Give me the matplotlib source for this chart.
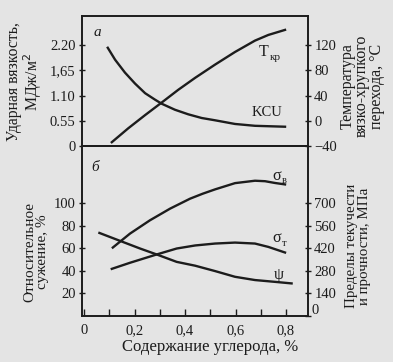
import matplotlib
matplotlib.use('Agg')
import matplotlib.pyplot as plt
from matplotlib.ticker import FixedLocator, FixedFormatter

plt.rcParams['font.family'] = ['Liberation Serif', 'DejaVu Serif']

# --- data ---
# top panel (a): impact toughness KCU (MJ/m2) and transition temperature T_kr (C)
kcu_x = [0.094, 0.123, 0.162, 0.202, 0.242, 0.281, 0.308, 0.36, 0.413, 0.466,
         0.519, 0.598, 0.677, 0.796]
kcu_y = [2.14, 1.88, 1.60, 1.36, 1.15, 1.01, 0.92, 0.79, 0.69, 0.61,
         0.56, 0.48, 0.44, 0.42]
tkr_x = [0.11, 0.175, 0.242, 0.308, 0.373, 0.44, 0.519, 0.598, 0.677, 0.73, 0.796]
tkr_y = [-34, -12, 9, 29, 49, 68, 89, 109, 127, 136, 144]

# bottom panel (b): reduction of area psi (%) and strength limits (MPa)
psi_x = [0.061, 0.143, 0.222, 0.288, 0.367, 0.44, 0.519, 0.598, 0.677, 0.756, 0.822]
psi_y = [73.6, 66.5, 59.7, 54.4, 47.8, 44.4, 39.6, 34.5, 31.6, 30.0, 28.6]
sb_x = [0.114, 0.182, 0.261, 0.341, 0.42, 0.47, 0.519, 0.598, 0.677, 0.717, 0.756, 0.796]
sb_y = [424, 511, 594, 667, 729, 760, 787, 826, 841, 838, 827, 818]
st_x = [0.11, 0.182, 0.288, 0.367, 0.44, 0.519, 0.598, 0.677, 0.73, 0.796]
st_y = [291, 329, 381, 418, 437, 449, 455, 449, 428, 393]

kcu_ticks = [0, 0.55, 1.10, 1.65, 2.20]
kcu_labels = ['0', '0.55', '1.10', '1,65', '2.20']
t_ticks = [-40, 0, 40, 80, 120]
psi_ticks = [20, 40, 60, 80, 100]
mpa_ticks = [0, 140, 280, 420, 560, 700]
mpa_labels = ['', '140', '280', '420', '560', '700']
x_ticks = [0, 0.1, 0.2, 0.3, 0.4, 0.5, 0.6, 0.7, 0.8]
x_labels = ['0', '', '0,2', '', '0,4', '', '0,6', '', '0,8']

W, H = 393, 362
BG = '#e4e4e4'
INK = '#1c1c1c'


def fx(px):
    return px / W


def fy(py):
    return 1 - py / H


fig = plt.figure(figsize=(W / 100, H / 100), dpi=100, facecolor=BG)

left, right = 82, 308
top_a, mid, bot_b = 15.5, 146, 315.5
ax_a = fig.add_axes([fx(left), fy(mid), (right - left) / W, (mid - top_a) / H])
ax_b = fig.add_axes([fx(left), fy(bot_b), (right - left) / W, (bot_b - mid) / H])
ax_a2 = ax_a.twinx()
ax_b2 = ax_b.twinx()

for ax in (ax_a, ax_b, ax_a2, ax_b2):
    ax.set_facecolor('none')
    for s in ax.spines.values():
        s.set_linewidth(1.2)
        s.set_color(INK)
    ax.set_xlim(-0.008, 0.887)
    ax.tick_params(colors=INK, labelsize=10.5, width=1.0, length=5,
                   direction='inout', pad=2)
ax_a.set_facecolor(BG)
ax_b.set_facecolor(BG)

lw = 1.7
ax_a.plot(kcu_x, kcu_y, color=INK, lw=lw)
ax_a2.plot(tkr_x, tkr_y, color=INK, lw=lw)
ax_b.plot(psi_x, psi_y, color=INK, lw=lw)
ax_b2.plot(sb_x, sb_y, color=INK, lw=lw)
ax_b2.plot(st_x, st_y, color=INK, lw=lw)

# axes limits and ticks
ax_a.set_ylim(0, 2.843)
ax_a.yaxis.set_major_locator(FixedLocator(kcu_ticks))
ax_a.yaxis.set_major_formatter(FixedFormatter(kcu_labels))
ax_a2.set_ylim(-40, 166.8)
ax_a2.set_yticks(t_ticks)
ax_a.set_xticks([])
ax_a2.set_xticks([])

ax_b.set_ylim(0, 151.1)
ax_b.set_yticks(psi_ticks)
ax_b2.set_ylim(0, 151.1 * 7)
ax_b2.yaxis.set_major_locator(FixedLocator(mpa_ticks))
ax_b2.yaxis.set_major_formatter(FixedFormatter(mpa_labels))
ax_b.xaxis.set_major_locator(FixedLocator(x_ticks))
ax_b.xaxis.set_major_formatter(FixedFormatter(x_labels))
ax_b.tick_params(axis='x', direction='in', length=5, pad=6)
# the "0" of the MPa scale sits a little above the corner in the original
fig.text(fx(312), fy(310), '0', fontsize=10.5, color=INK, ha='left', va='center')

# panel letters and curve labels
txt = dict(color=INK, ha='center', va='center')
fig.text(fx(97), fy(33), 'а', fontsize=11, style='italic', **txt)
fig.text(fx(95), fy(168), 'б', fontsize=11, style='italic', **txt)
fig.text(fx(264), fy(52), 'T', fontsize=11.5, **txt)
fig.text(fx(275), fy(57), 'кр', fontsize=8, **txt)
fig.text(fx(267), fy(113), 'KCU', fontsize=10.5, **txt)
fig.text(fx(277), fy(176), 'σ', fontsize=11.5, **txt)
fig.text(fx(284.5), fy(180), 'в', fontsize=7.5, **txt)
fig.text(fx(277), fy(238), 'σ', fontsize=11.5, **txt)
fig.text(fx(284.5), fy(243), 'т', fontsize=7.5, **txt)
fig.text(fx(279), fy(275), 'ψ', fontsize=11.5, **txt)

# axis titles
lab = dict(color=INK, ha='center', va='center', rotation=90,
           multialignment='center')
fig.text(fx(25), fy(82), 'Ударная вязкость,\nМДж/м$^2$', fontsize=11.3,
         linespacing=1.0, **lab)
fig.text(fx(362), fy(86), 'Температура\nвязко-хрупкого\nперехода, °С',
         fontsize=11.5, linespacing=0.88, **lab)
fig.text(fx(36), fy(252), 'Относительное\nсужение, %', fontsize=11,
         linespacing=1.0, **lab)
fig.text(fx(358), fy(246), 'Пределы текучести\nи прочности, МПа',
         fontsize=10.8, linespacing=0.95, **lab)
fig.text(fx(210), fy(347), 'Содержание углерода, %', fontsize=12,
         color=INK, ha='center', va='center')

fig.savefig('out.png', dpi=100, facecolor=BG)
